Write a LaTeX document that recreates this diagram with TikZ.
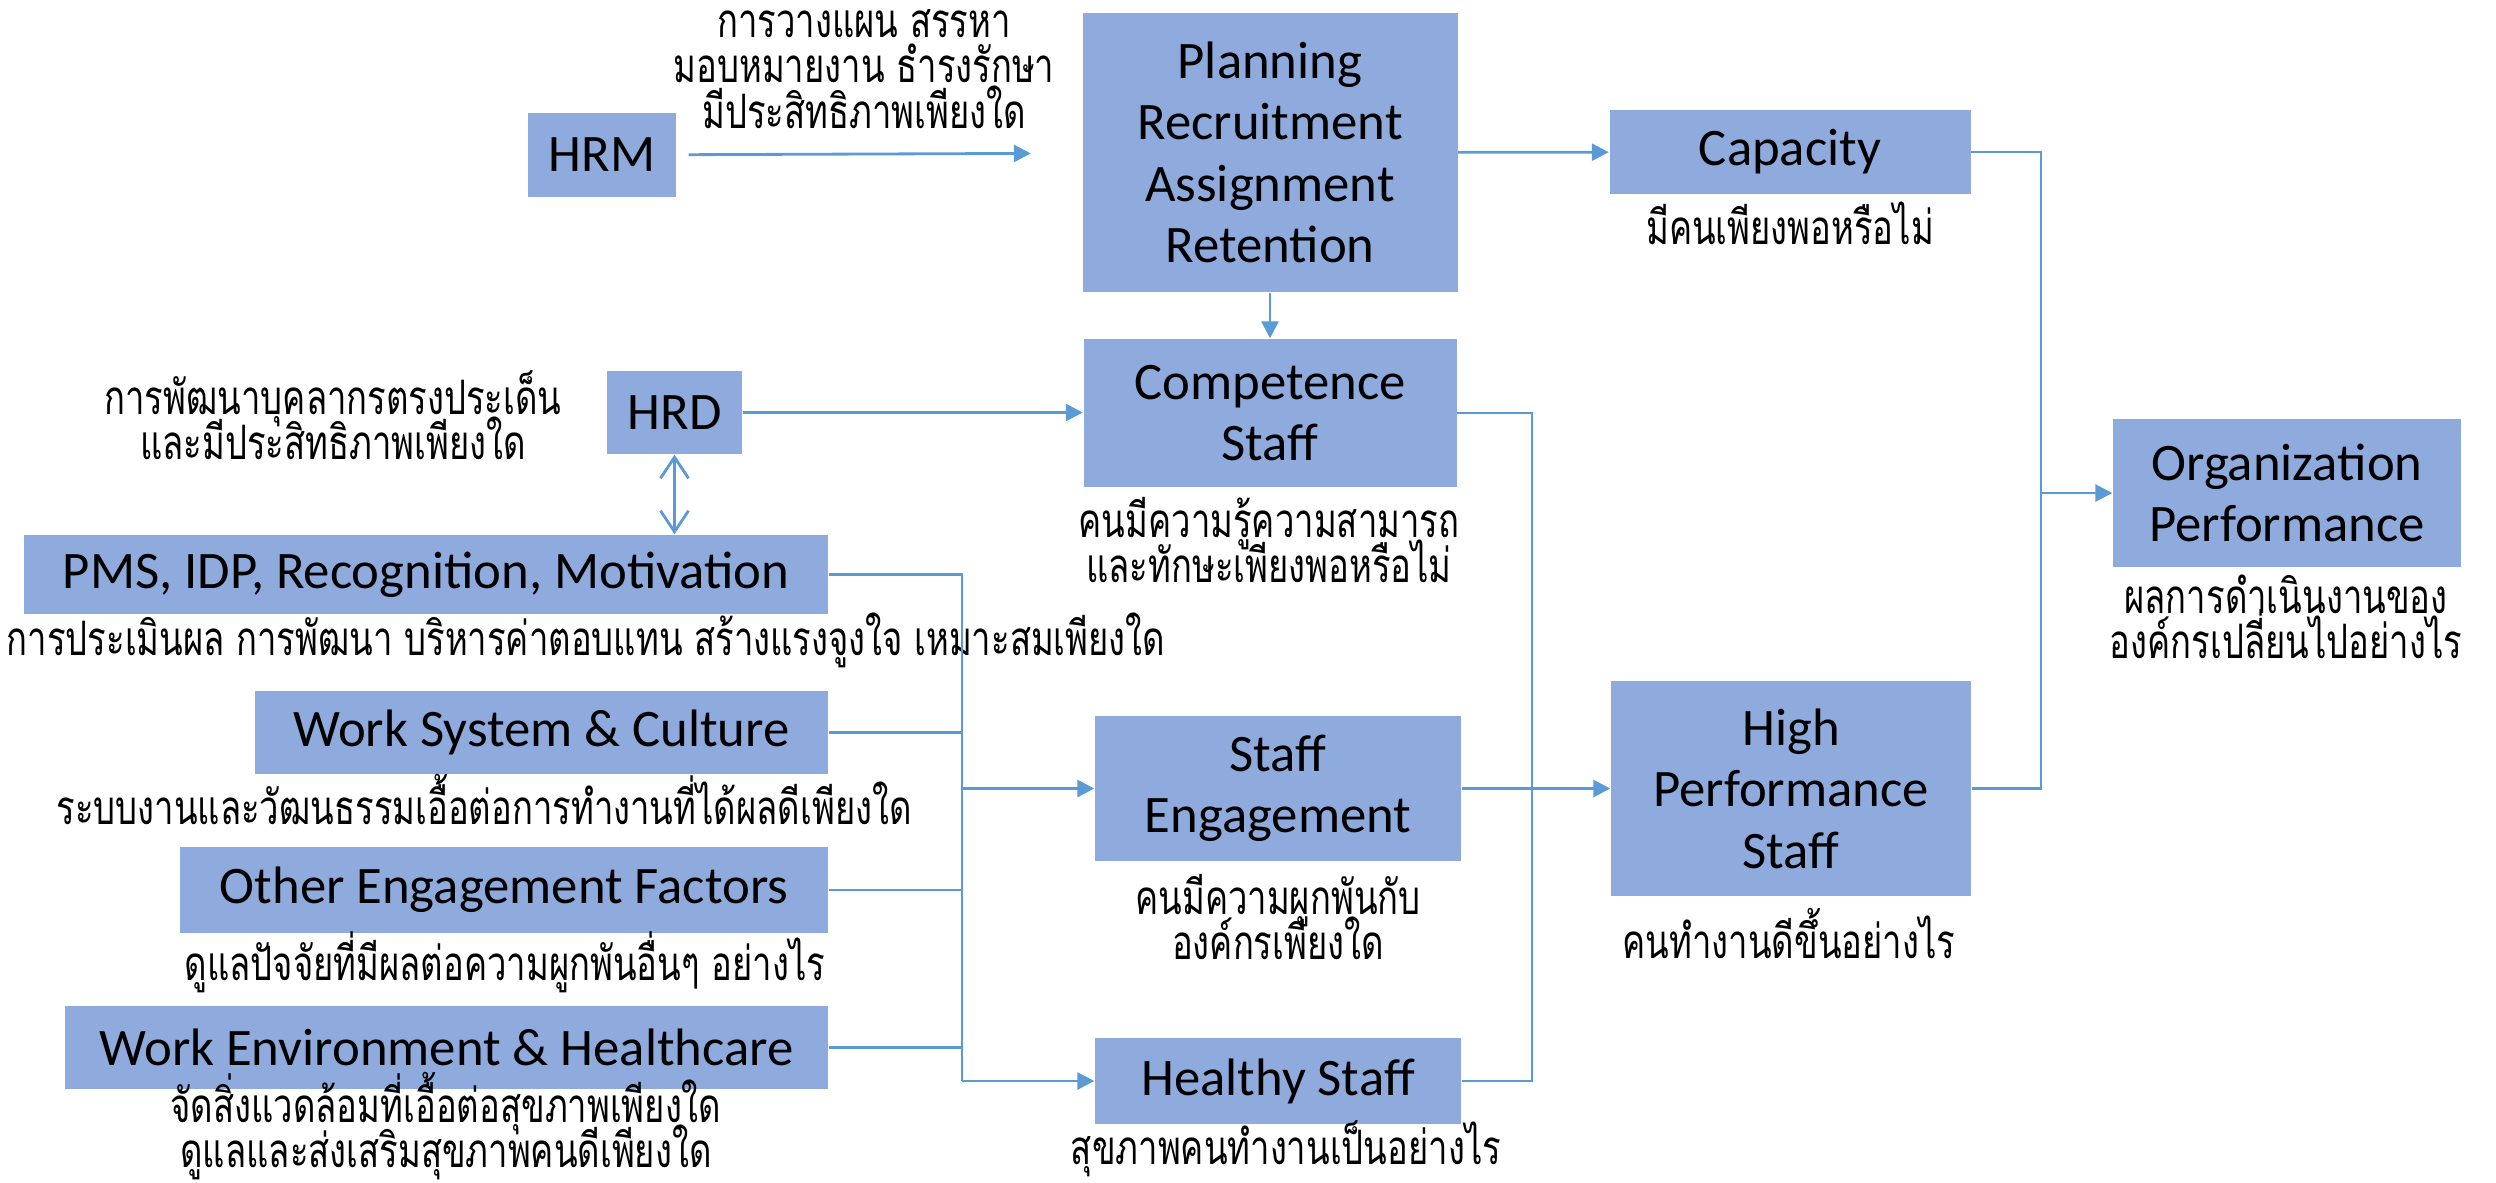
\documentclass[tikz,border=0pt]{standalone}
\usepackage{fontspec}
\setmainfont{Carlito}
\newfontfamily\thaifont[Script=Thai, FakeStretch=0.73]{Loma}
\usepackage{tikz}
\usetikzlibrary{arrows.meta}

\definecolor{boxblue}{HTML}{8FAADC}
\definecolor{lineblue}{HTML}{5B9BD5}

\newcommand\notefont{\thaifont\fontsize{13.5}{12.9}\selectfont\setlength{\lineskiplimit}{-20pt}}

\tikzset{
    box/.style={fill=boxblue, inner sep=0pt, align=center,
        font=\fontsize{15}{17.5}\selectfont},
    note/.style={inner sep=0pt, align=center, font=\notefont},
    wire/.style={draw=lineblue, line width=0.8pt},
    arr/.style={wire, -{Triangle[length=4.8pt,width=4.8pt]}},
    dblarr/.style={wire, {Straight Barb[length=6pt,width=8pt]}-{Straight Barb[length=6pt,width=8pt]}}
}

\begin{document}
\begin{tikzpicture}
    \useasboundingbox (0,0) rectangle (24.96,-11.82);

    % boxes
    \node[box, minimum width=1.48cm, minimum height=0.84cm] (hrm) at (6.02,-1.55) {HRM};
    \node[box, minimum width=3.75cm, minimum height=2.79cm] (plan) at (12.70,-1.525) {Planning\\Recruitment\\Assignment\\Retention};
    \node[box, minimum width=3.61cm, minimum height=0.84cm] (cap) at (17.90,-1.52) {Capacity};
    \node[box, minimum width=3.73cm, minimum height=1.48cm] (comp) at (12.70,-4.13) {Competence\\Staff};
    \node[box, minimum width=1.35cm, minimum height=0.83cm] (hrd) at (6.745,-4.125) {HRD};
    \node[box, minimum width=8.04cm, minimum height=0.79cm] (pms) at (4.26,-5.745) {PMS, IDP, Recognition, Motivation};
    \node[box, minimum width=5.73cm, minimum height=0.83cm] (wsc) at (5.415,-7.325) {Work System \& Culture};
    \node[box, minimum width=6.48cm, minimum height=0.86cm] (oef) at (5.04,-8.90) {Other Engagement Factors};
    \node[box, minimum width=7.63cm, minimum height=0.83cm] (weh) at (4.465,-10.475) {Work Environment \& Healthcare};
    \node[box, minimum width=3.66cm, minimum height=1.45cm] (eng) at (12.78,-7.885) {Staff\\Engagement};
    \node[box, minimum width=3.66cm, minimum height=0.86cm] (hlth) at (12.78,-10.81) {Healthy Staff};
    \node[box, minimum width=3.60cm, minimum height=2.15cm] (hp) at (17.91,-7.885) {High\\Performance\\Staff};
    \node[box, minimum width=3.48cm, minimum height=1.48cm] (org) at (22.87,-4.93) {Organization\\Performance};

    % notes
    \node[note] (hrmnote) at (8.64,-0.69) {การวางแผน สรรหา\\มอบหมายงาน ธำรงรักษา\\มีประสิทธิภาพเพียงใด};
    \node[note] (capnote) at (17.90,-2.23) {มีคนเพียงพอหรือไม่};
    \node[note] (compnote) at (12.69,-5.40) {คนมีความรู้ความสามารถ\\และทักษะเพียงพอหรือไม่};
    \node[note] (hrdnote) at (3.33,-4.15) {การพัฒนาบุคลากรตรงประเด็น\\และมีประสิทธิภาพเพียงใด};
    \node[note] (pmsnote) at (5.86,-6.40) {การประเมินผล การพัฒนา บริหารค่าตอบแทน สร้างแรงจูงใจ เหมาะสมเพียงใด};
    \node[note] (wscnote) at (4.84,-7.99) {ระบบงานและวัฒนธรรมเอื้อต่อการทำงานที่ได้ผลดีเพียงใด};
    \node[note] (oefnote) at (5.05,-9.62) {ดูแลปัจจัยที่มีผลต่อความผูกพันอื่นๆ อย่างไร};
    \node[note] (wehnote) at (4.46,-11.26) {จัดสิ่งแวดล้อมที่เอื้อต่อสุขภาพเพียงใด\\ดูแลและส่งเสริมสุขภาพคนดีเพียงใด};
    \node[note] (engnote) at (12.78,-9.17) {คนมีความผูกพันกับ\\องค์กรเพียงใด};
    \node[note] (hlthnote) at (12.86,-11.49) {สุขภาพคนทำงานเป็นอย่างไร};
    \node[note] (hpnote) at (17.89,-9.33) {คนทำงานดีขึ้นอย่างไร};
    \node[note] (orgnote) at (22.86,-6.17) {ผลการดำเนินงานของ\\องค์กรเปลี่ยนไปอย่างไร};

    % joints of the lines
    \coordinate (bus1) at (9.62,-7.885);
    \coordinate (bus2) at (9.62,-10.81);
    \coordinate (bus3) at (15.32,-7.885);
    \coordinate (bus4) at (20.41,-4.93);

    % connectors
    \draw[arr, shorten <=0.12cm, shorten >=0.51cm] (hrm) -- (plan);
    \draw[arr] (plan) -- (cap);
    \draw[arr] (plan) -- (comp);
    \draw[arr] (hrd) -- (hrd -| comp.west);
    \draw[dblarr] (hrd) -- (hrd |- pms.north);

    \draw[wire] (pms.east) -| (bus2);
    \draw[wire] (wsc.east) -- (wsc.east -| bus1);
    \draw[wire] (oef.east) -- (oef.east -| bus1);
    \draw[wire] (weh.east) -- (weh.east -| bus1);
    \draw[arr] (bus1) -- (eng);
    \draw[arr] (bus2) -- (hlth);

    \draw[wire] (comp.east) -| (bus3);
    \draw[wire] (hlth.east) -| (bus3);
    \draw[arr] (eng) -- (hp);

    \draw[wire] (cap.east) -| (bus4);
    \draw[wire] (hp.east) -| (bus4);
    \draw[arr] (bus4) -- (org);
\end{tikzpicture}
\end{document}
